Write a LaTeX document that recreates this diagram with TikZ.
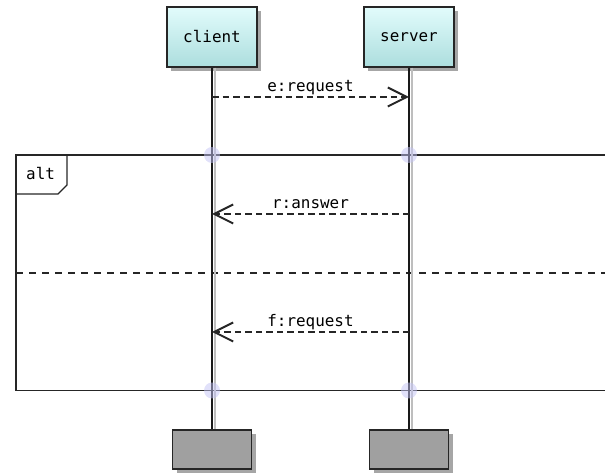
\documentclass[tikz,border=0pt]{standalone}
\usepackage{fontspec}
\setmonofont{DejaVu Sans Mono}
\usetikzlibrary{positioning,arrows.meta,shadows}
\definecolor{boxtop}{RGB}{226,252,252}
\definecolor{boxbottom}{RGB}{172,222,222}
\definecolor{endgray}{RGB}{160,160,160}
\definecolor{dotblue}{RGB}{196,196,245}
\definecolor{lifegray}{RGB}{190,190,190}

\begin{document}
\begin{tikzpicture}[x=1bp,y=1bp,node distance=197bp,on grid,
    font=\ttfamily\fontsize{16}{19}\selectfont,
    participant/.style={draw=black!85,line width=1.2bp,minimum width=90bp,minimum height=60bp,
        top color=boxtop,bottom color=boxbottom,
        drop shadow={shadow xshift=4bp,shadow yshift=-4bp,fill=black,opacity=.35}},
    endbox/.style={draw=black!85,line width=1.2bp,fill=endgray,minimum width=79bp,minimum height=39bp,
        drop shadow={shadow xshift=4bp,shadow yshift=-4bp,fill=black,opacity=.35}},
    lifeline/.style={draw=black!90,line width=1.3bp},
    lifeshadow/.style={draw=lifegray,line width=1.3bp},
    frame/.style={draw=black!85,line width=1.4bp},
    message/.style={draw=black!85,line width=1.2bp,dash pattern=on 6.5bp off 4bp,
        -{Straight Barb[length=19bp,width=19bp,line width=2bp]}},
    msglabel/.style={anchor=base,yshift=5bp,inner sep=0pt},
    crossdot/.style={fill=dotblue,opacity=.5}]
    \useasboundingbox (0,0) rectangle (605,474);

    % participants
    \node[participant] (client) at (212,437) {client};
    \node[participant, right=of client] (server) {server};
    \node[endbox, below=412.5bp of client] (clientEnd) {};
    \node[endbox, below=412.5bp of server] (serverEnd) {};

    % levels
    \coordinate (altTop) at (16,319);
    \coordinate (altBottom) at (16,83.5);
    \coordinate (yE) at (0,377);
    \coordinate (yR) at (0,260);
    \coordinate (yElse) at (16,201);
    \coordinate (yF) at (0,142);

    % alt frame
    \draw[frame] (605,319) -- (altTop) -- (altBottom) -- (605,83.5);
    \draw[frame] (16,280) -- (58,280) -- (67,289) -- (67,319);
    \node[anchor=base west,inner sep=0pt] (altLabel) at (26,294) {alt};
    \draw[frame,line width=1.2bp,dash pattern=on 7bp off 6bp] (yElse) -- (605,201);

    % lifelines
    \draw[lifeshadow] ([xshift=3bp]client.south) -- ([xshift=3bp]clientEnd.north);
    \draw[lifeshadow] ([xshift=3bp]server.south) -- ([xshift=3bp]serverEnd.north);
    \draw[lifeline] (client.south) -- (clientEnd.north);
    \draw[lifeline] (server.south) -- (serverEnd.north);
    \foreach \who in {client,server}
        \foreach \lvl in {altTop,altBottom}
            \fill[crossdot] (\who |- \lvl) circle (8bp);

    % messages
    \draw[message] (client |- yE) -- node[msglabel] {e:request} (server |- yE);
    \draw[message] (server |- yR) -- node[msglabel] {r:answer} (client |- yR);
    \draw[message] (server |- yF) -- node[msglabel] {f:request} (client |- yF);
\end{tikzpicture}
\end{document}
